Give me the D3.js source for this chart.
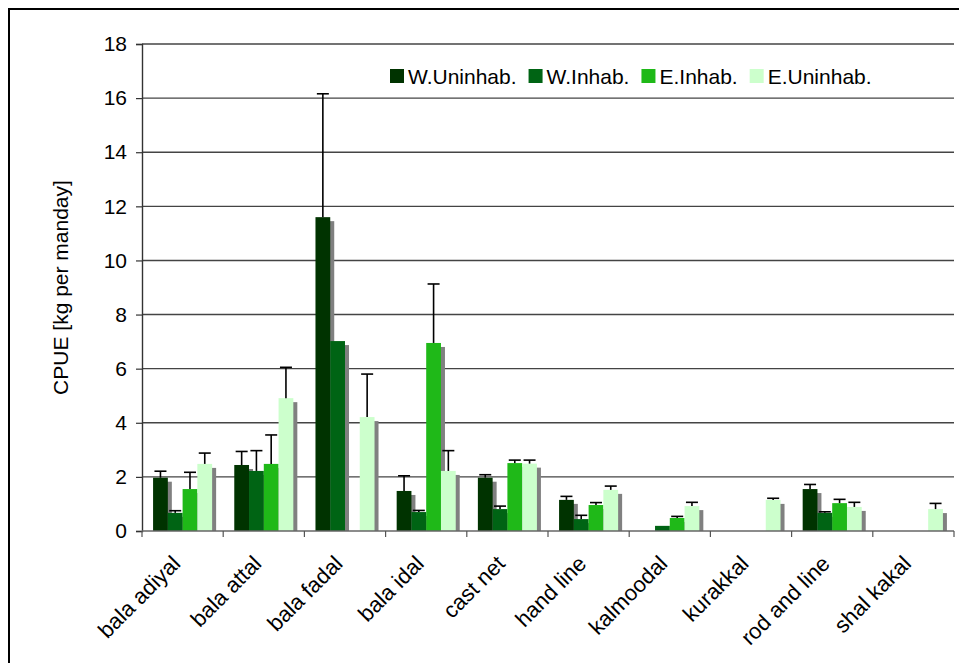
<!DOCTYPE html>
<html>
<head>
<meta charset="utf-8">
<script src="https://cdn.jsdelivr.net/npm/d3@7"></script>
<style>
  body { margin: 0; background: #fff; }
  text { font-family: 'Liberation Sans', Arial, sans-serif; fill: #000; }
</style>
</head>
<body>
<div id="chart"></div>
<script>
let categories = ['bala adiyal', 'bala attal', 'bala fadal', 'bala idal', 'cast net',
  'hand line', 'kalmoodal', 'kurakkal', 'rod and line', 'shal kakal']

let seriesNames = ['W.Uninhab.', 'W.Inhab.', 'E.Inhab.', 'E.Uninhab.']
let seriesColors = ['#003300', '#006414', '#1fb918', '#ccffcc']

let wUninhab = [1.97, 2.44, 11.6, 1.48, 1.97, 1.15, 0, 0, 1.55, 0]
let wUninhabErr = [0.24, 0.5, 4.56, 0.56, 0.11, 0.13, 0, 0, 0.17, 0]
let wInhab = [0.67, 2.22, 7.02, 0.7, 0.81, 0.44, 0.19, 0, 0.67, 0]
let wInhabErr = [0.08, 0.75, 0, 0.06, 0.11, 0.14, 0, 0, 0.04, 0]
let eInhab = [1.55, 2.48, 0, 6.95, 2.51, 0.96, 0.48, 0, 1.03, 0]
let eInhabErr = [0.62, 1.07, 0, 2.18, 0.11, 0.09, 0.06, 0, 0.14, 0]
let eUninhab = [2.48, 4.91, 4.21, 2.22, 2.49, 1.52, 0.92, 1.15, 0.89, 0.81]
let eUninhabErr = [0.4, 1.14, 1.59, 0.75, 0.13, 0.14, 0.14, 0.06, 0.17, 0.21]

let yTicks = [0, 2, 4, 6, 8, 10, 12, 14, 16, 18]

let values = [wUninhab, wInhab, eInhab, eUninhab]
let errors = [wUninhabErr, wInhabErr, eInhabErr, eUninhabErr]

let width = 959
let height = 663
let margin = { top: 44, left: 142, right: 5, bottom: 132 }

let svg = d3
  .select('#chart')
  .append('svg')
  .attr('width', width)
  .attr('height', height)

// outer frame (runs off the right and bottom edges)
svg
  .append('rect')
  .attr('x', 9)
  .attr('y', 9)
  .attr('width', width + 20)
  .attr('height', height + 20)
  .attr('fill', 'none')
  .attr('stroke', '#000')
  .attr('stroke-width', 2)

let x = d3
  .scaleBand()
  .domain(categories)
  .range([margin.left, width - margin.right])

let groupW = (x.bandwidth() * 4) / 5.5
let xs = d3
  .scaleBand()
  .domain(seriesNames)
  .range([(x.bandwidth() - groupW) / 2, (x.bandwidth() + groupW) / 2])

let y = d3
  .scaleLinear()
  .domain([0, 18])
  .range([height - margin.bottom, margin.top])

// gridlines
svg
  .selectAll('.grid')
  .data(yTicks.filter(d => d > 0))
  .enter()
  .append('line')
  .attr('class', 'grid')
  .attr('x1', margin.left)
  .attr('x2', width - margin.right)
  .attr('y1', d => y(d))
  .attr('y2', d => y(d))
  .attr('stroke', '#444')
  .attr('stroke-width', 1.4)

let points = []
values.forEach((vals, i) => {
  vals.forEach((v, j) => {
    points.push({ s: i, cat: categories[j], v: v, e: errors[i][j] })
  })
})
let bars = points.filter(d => d.v > 0)

svg
  .append('clipPath')
  .attr('id', 'plot-clip')
  .append('rect')
  .attr('x', margin.left)
  .attr('y', 0)
  .attr('width', width)
  .attr('height', y(0))

// shadows first, then bars
svg
  .append('g')
  .attr('clip-path', 'url(#plot-clip)')
  .selectAll('.shadow')
  .data(bars)
  .enter()
  .append('rect')
  .attr('class', 'shadow')
  .attr('x', d => x(d.cat) + xs(seriesNames[d.s]) + 4)
  .attr('y', d => y(d.v) + 4)
  .attr('width', xs.bandwidth())
  .attr('height', d => y(0) - y(d.v))
  .attr('fill', '#808080')

svg
  .selectAll('.bar')
  .data(bars)
  .enter()
  .append('rect')
  .attr('class', 'bar')
  .attr('x', d => x(d.cat) + xs(seriesNames[d.s]))
  .attr('y', d => y(d.v))
  .attr('width', xs.bandwidth())
  .attr('height', d => y(0) - y(d.v))
  .attr('fill', d => seriesColors[d.s])

// error bars (upper only)
let errs = svg
  .selectAll('.err')
  .data(points.filter(d => d.e > 0))
  .enter()
  .append('g')
  .attr('class', 'err')
  .attr('stroke', '#000')
  .attr('stroke-width', 1.6)

errs
  .append('line')
  .attr('x1', d => x(d.cat) + xs(seriesNames[d.s]) + xs.bandwidth() / 2)
  .attr('x2', d => x(d.cat) + xs(seriesNames[d.s]) + xs.bandwidth() / 2)
  .attr('y1', d => y(d.v))
  .attr('y2', d => y(d.v + d.e))

errs
  .append('line')
  .attr('x1', d => x(d.cat) + xs(seriesNames[d.s]) + xs.bandwidth() / 2 - 6)
  .attr('x2', d => x(d.cat) + xs(seriesNames[d.s]) + xs.bandwidth() / 2 + 6)
  .attr('y1', d => y(d.v + d.e))
  .attr('y2', d => y(d.v + d.e))

// y axis
let yAxis = svg
  .append('g')
  .attr('transform', `translate(${margin.left},0)`)
  .call(d3.axisLeft(y).tickValues(yTicks).tickSize(6).tickPadding(9))

yAxis.select('.domain').attr('stroke', '#333').attr('stroke-width', 1.4)
yAxis.selectAll('.tick line').attr('stroke', '#333').attr('stroke-width', 1.2)
yAxis
  .selectAll('.tick text')
  .attr('font-size', 21)
  .style('font-family', "'Liberation Sans', Arial, sans-serif")

// x axis
svg
  .append('line')
  .attr('x1', margin.left)
  .attr('x2', width - margin.right)
  .attr('y1', y(0))
  .attr('y2', y(0))
  .attr('stroke', '#666')
  .attr('stroke-width', 1.6)

let bounds = categories.map(c => x(c)).concat([x.range()[1]])
svg
  .selectAll('.xtick')
  .data(bounds)
  .enter()
  .append('line')
  .attr('x1', d => d)
  .attr('x2', d => d)
  .attr('y1', y(0))
  .attr('y2', y(0) + 6)
  .attr('stroke', '#555')
  .attr('stroke-width', 1.2)

svg
  .selectAll('.xlabel')
  .data(categories)
  .enter()
  .append('text')
  .attr('class', 'xlabel')
  .attr('transform', d => `translate(${x(d) + x.bandwidth() / 2 - 1},${y(0) + 34}) rotate(-45)`)
  .attr('text-anchor', 'end')
  .attr('font-size', 22)
  .text(d => d)

// y axis title
svg
  .append('text')
  .attr('transform', `translate(68,${(y(0) + y(18)) / 2}) rotate(-90)`)
  .attr('text-anchor', 'middle')
  .attr('font-size', 21)
  .text('CPUE [kg per manday]')

// legend
let legend = svg.append('g').attr('transform', 'translate(390,69)')
let lx = 0
seriesNames.forEach((name, i) => {
  let item = legend.append('g').attr('transform', `translate(${lx},0)`)
  item
    .append('rect')
    .attr('width', 14)
    .attr('height', 14)
    .attr('fill', seriesColors[i])
  let t = item
    .append('text')
    .attr('x', 18)
    .attr('y', 14.5)
    .attr('font-size', 21)
    .text(name)
  lx += 18 + t.node().getComputedTextLength() + 12
})
</script>
</body>
</html>
